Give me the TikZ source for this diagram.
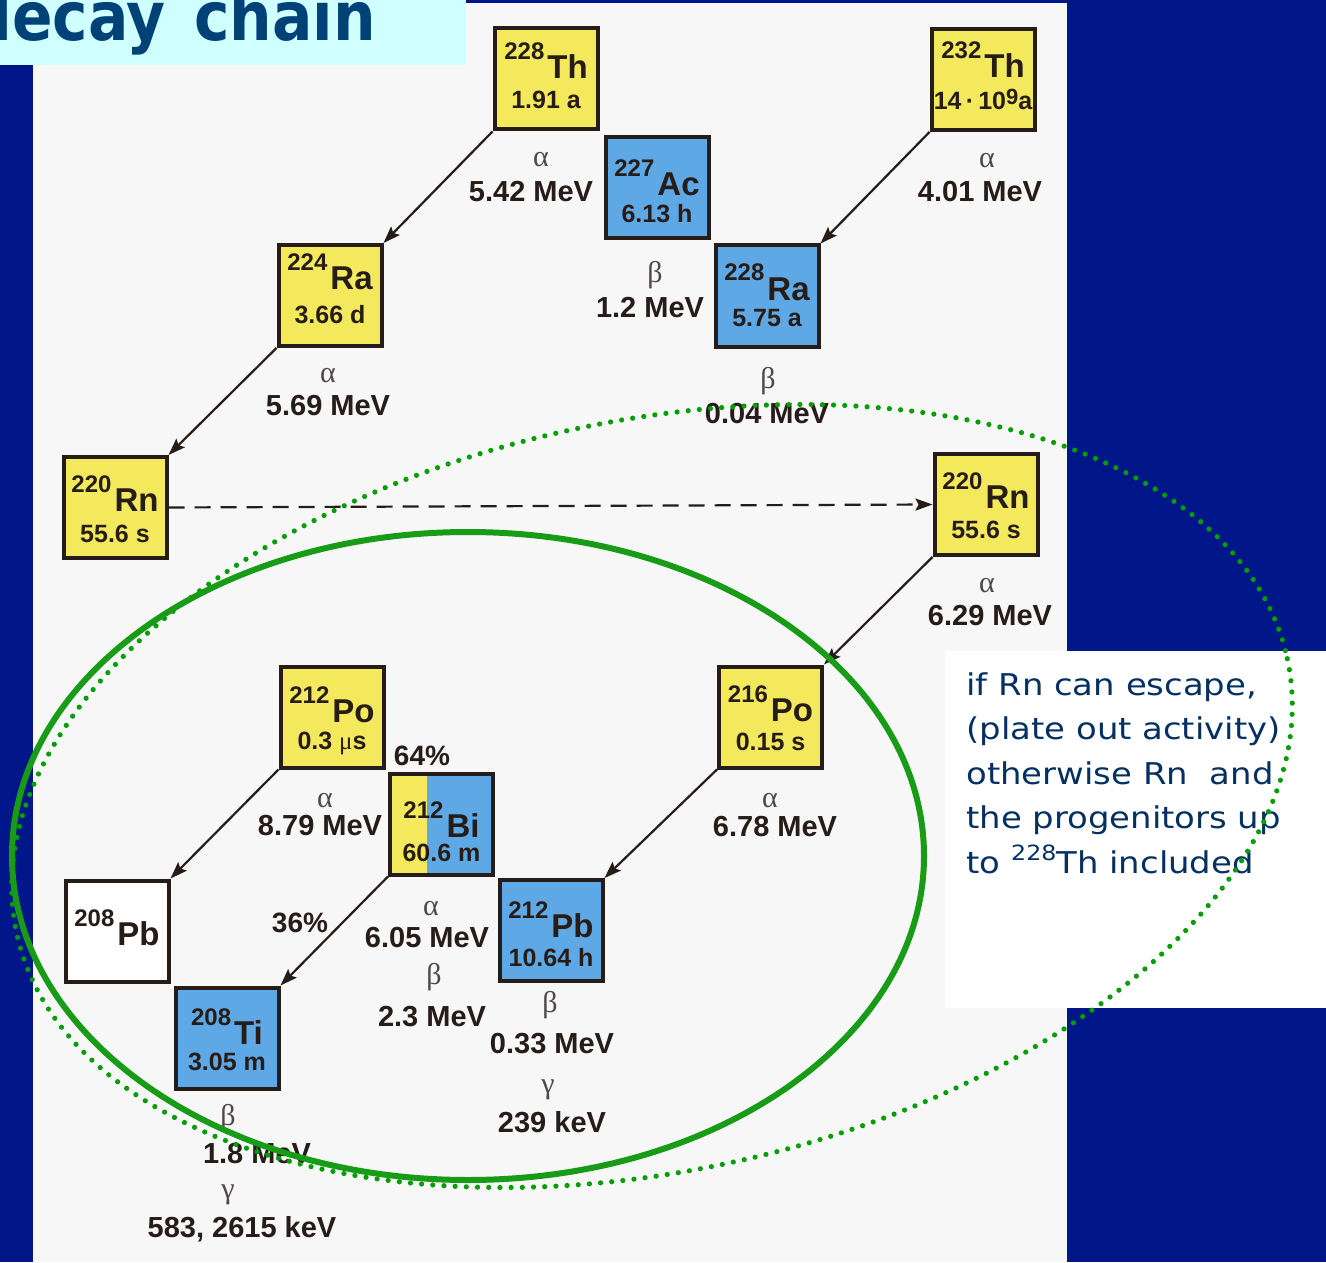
\documentclass[tikz,border=0pt]{standalone}
\usepackage{fontspec}
\setmainfont{Liberation Sans}
\newfontfamily\greekfont{Liberation Serif}
\newfontfamily\notefont[FakeStretch=1.13]{DejaVu Sans}
\newfontfamily\titlefont[FakeStretch=0.88]{DejaVu Sans}
\usetikzlibrary{arrows.meta,calc}

\definecolor{slideblue}{RGB}{0,22,137}
\definecolor{panelgray}{RGB}{247,247,247}
\definecolor{titlecyan}{RGB}{208,255,255}
\definecolor{titleink}{RGB}{0,66,120}
\definecolor{noteink}{RGB}{4,48,98}
\definecolor{alphayellow}{RGB}{244,233,92}
\definecolor{betablue}{RGB}{94,168,230}
\definecolor{ink}{RGB}{38,28,24}
\definecolor{greekink}{RGB}{80,72,72}
\definecolor{ringgreen}{RGB}{24,156,24}
\definecolor{dotgreen}{RGB}{0,158,0}

% mass number set as a raised prefix to the element symbol
\newcommand{\massno}[1]{{\fontsize{12}{12}\selectfont\raisebox{9.5pt}{#1}}\hspace{1.5pt}}

% #1 name, #2/#3 centre, #4 box style, #5 mass number, #6 symbol,
% #7 half-life, #8/#9 baseline offsets of symbol and half-life
\newcommand{\nuclide}[9]{%
  \node[nbox,#4] (#1) at (#2,#3) {};
  \node[elem] (#1-sym) at ($(#1.center)+(0,#8)$) {\massno{#5}#6};
  \node[halflife] (#1-t) at ($(#1.center)+(0,#9)$) {#7};
}

\begin{document}
\begin{tikzpicture}[x=0.5pt,y=-0.5pt,
  nbox/.style={draw=ink, line width=2pt, minimum width=51.5pt, minimum height=50.5pt, inner sep=0pt},
  yellowbox/.style={fill=alphayellow},
  bluebox/.style={fill=betablue},
  whitebox/.style={fill=white},
  splitbox/.style={fill=betablue, path picture={\fill[alphayellow]
      (path picture bounding box.south west) rectangle
      ([xshift=18.5pt]path picture bounding box.north west);}},
  elem/.style={anchor=base, inner sep=0pt, text=ink, font=\bfseries\fontsize{16.5}{17}\selectfont},
  halflife/.style={anchor=base, inner sep=0pt, text=ink, font=\bfseries\fontsize{12.5}{13}\selectfont},
  energy/.style={anchor=base, inner sep=0pt, text=ink, font=\bfseries\fontsize{14.5}{15}\selectfont},
  ray/.style={anchor=base, inner sep=0pt, text=greekink, font=\greekfont\fontsize{15}{16}\selectfont},
  branch/.style={anchor=base, inner sep=0pt, text=ink, font=\bfseries\fontsize{14}{15}\selectfont},
  decay/.style={draw=ink, line width=1.1pt, -{Stealth[length=8.5pt,width=6pt,inset=1.5pt]}},
  note/.style={anchor=base west, inner sep=0pt, text=noteink, font=\notefont\fontsize{15}{16}\selectfont},
  ring/.style={draw=ringgreen, line width=3pt},
  dotring/.style={draw=dotgreen, line width=2.6pt, line cap=round, dash pattern=on 0pt off 5.6pt}
]
% slide background and panels
\fill[slideblue] (0,0) rectangle (1326,1262);
\useasboundingbox (0,0) rectangle (1326,1262);
\fill[panelgray] (33,3) rectangle (1067,1262);
\fill[white] (945,651) rectangle (1326,1008);
\fill[titlecyan] (0,0) rectangle (466,65);
\node[anchor=base west, inner sep=0pt, text=titleink,
      font=\titlefont\bfseries\fontsize{34}{34}\selectfont] (title) at (-31,41) {decay\hspace{0.42em}chain};

% nuclide boxes
\nuclide{th228}{546}{79}{yellowbox}{228}{Th}{1.91 a}{0}{30}
\nuclide{ac227}{657}{188}{bluebox}{227}{Ac}{6.13 h}{8}{35}
\nuclide{th232}{983}{79.5}{yellowbox}{232}{Th}{14\,·\,10\raisebox{2.5pt}{\fontsize{11}{12}\selectfont 9}a}{-2}{30}
\nuclide{ra228}{767}{296}{bluebox}{228}{Ra}{5.75 a}{4}{31}
\nuclide{ra224}{330}{295.5}{yellowbox}{224}{Ra}{3.66 d}{-6}{28}
\nuclide{rn220a}{115}{507.5}{yellowbox}{220}{Rn}{55.6 s}{4}{35}
\nuclide{rn220b}{986}{504.5}{yellowbox}{220}{Rn}{55.6 s}{4}{34}
\nuclide{po216}{770.5}{717}{yellowbox}{216}{Po}{0.15 s}{4}{33}
\nuclide{po212}{332}{717}{yellowbox}{212}{Po}{0.3 {\greekfont\mdseries μ}s}{5}{32}
\nuclide{bi212}{441.5}{824}{splitbox}{212}{Bi}{60.6 m}{13}{37}
\nuclide{pb212}{551}{930.5}{bluebox}{212}{Pb}{10.64 h}{7}{36}
\nuclide{pb208}{117}{931}{whitebox}{208}{Pb}{}{14}{36}
\nuclide{tl208}{227}{1038}{bluebox}{208}{Ti}{3.05 m}{6}{32}

% decays
\draw[decay] (th228.south west) -- (ra224.north east);
\draw[decay] (th232.south west) -- (ra228.north east);
\draw[decay] (ra224.south west) -- (rn220a.north east);
\draw[decay, dash pattern=on 8pt off 5pt] (rn220a.east) -- (rn220b.west);
\draw[decay] (rn220b.south west) -- (po216.north east);
\draw[decay] (po216.south west) -- (pb212.north east);
\draw[decay] (po212.south west) -- (pb208.north east);
\draw[decay] (bi212.south west) -- (tl208.north east);

% decay modes and energies
\node[ray] (a1) at (541,167) {α};
\node[energy] (e1) at (531,202) {5.42 MeV};
\node[ray] (a2) at (987,168) {α};
\node[energy] (e2) at (980,202) {4.01 MeV};
\node[ray] (b1) at (655,283) {β};
\node[energy] (e3) at (650,318) {1.2 MeV};
\node[ray] (a3) at (328,382) {α};
\node[energy] (e4) at (328,415) {5.69 MeV};
\node[ray] (b2) at (768,388) {β};
\node[energy] (e5) at (767,423) {0.04 MeV};
\node[ray] (a4) at (987,592) {α};
\node[energy] (e6) at (990,625) {6.29 MeV};
\node[ray] (a5) at (325,807) {α};
\node[energy] (e7) at (320,835) {8.79 MeV};
\node[branch] (p64) at (422,765) {64\%};
\node[ray] (a6) at (770,807) {α};
\node[energy] (e8) at (775,836) {6.78 MeV};
\node[branch] (p36) at (300,932) {36\%};
\node[ray] (a7) at (431,915) {α};
\node[energy] (e9) at (427,947) {6.05 MeV};
\node[ray] (b3) at (434,984) {β};
\node[energy] (e10) at (432,1026) {2.3 MeV};
\node[ray] (b4) at (550,1012) {β};
\node[energy] (e11) at (552,1053) {0.33 MeV};
\node[ray] (g1) at (548,1093) {γ};
\node[energy] (e12) at (552,1132) {239 keV};
\node[ray] (b5) at (228,1125) {β};
\node[energy] (e13) at (257,1163) {1.8 MeV};
\node[ray] (g2) at (228,1198) {γ};
\node[energy] (e14) at (242,1237) {583, 2615 keV};

% side remark
\node[note] (n1) at (966,695) {if Rn can escape,};
\node[note] (n2) at (966,739.5) {(plate out activity)};
\node[note] (n3) at (966,784) {otherwise Rn\ \ and};
\node[note] (n4) at (966,828.5) {the progenitors up};
\node[note] (n5) at (966,873) {to {\fontsize{10.5}{10}\selectfont\raisebox{6.5pt}{228}}Th included};

% green outlines
\begin{scope}[shift={(652,796)}, rotate=12.2]
  \draw[dotring] (0,0) ellipse [x radius=650, y radius=375];
\end{scope}
\draw[ring] (468,856) ellipse [x radius=456, y radius=324];
\end{tikzpicture}
\end{document}
